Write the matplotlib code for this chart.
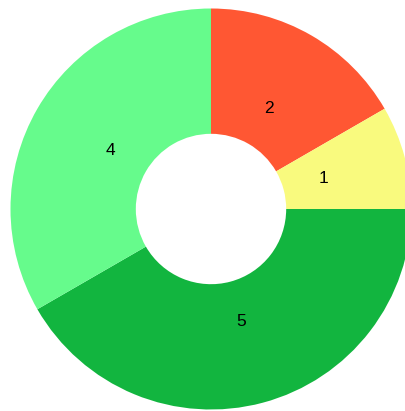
import matplotlib.pyplot as plt

# slice values, clockwise from 12 o'clock
labels = ['2', '1', '5', '4']
values = [2, 1, 5, 4]
colors = ['#FF5733', '#F9FA7E', '#12B53F', '#66FB8C']

plt.rcParams['font.family'] = ['Liberation Sans', 'DejaVu Sans']

fig = plt.figure(figsize=(4.06, 4.11), dpi=100)
ax = fig.add_axes([0, 0, 1, 1])

wedges, texts = ax.pie(values, labels=labels, colors=colors, startangle=90,
                       counterclock=False, radius=1.0, labeldistance=0.58,
                       wedgeprops=dict(width=0.625, linewidth=0),
                       textprops=dict(fontsize=12.5, color='black', ha='center', va='center'))

# center at (211, 209) px, radius ~200.5 px
s = 200.5
ax.set_xlim(-211 / s, (406 - 211) / s)
ax.set_ylim(-(411 - 209) / s, 209 / s)
ax.set_aspect('auto')
ax.axis('off')

fig.savefig('out.png', dpi=100)
